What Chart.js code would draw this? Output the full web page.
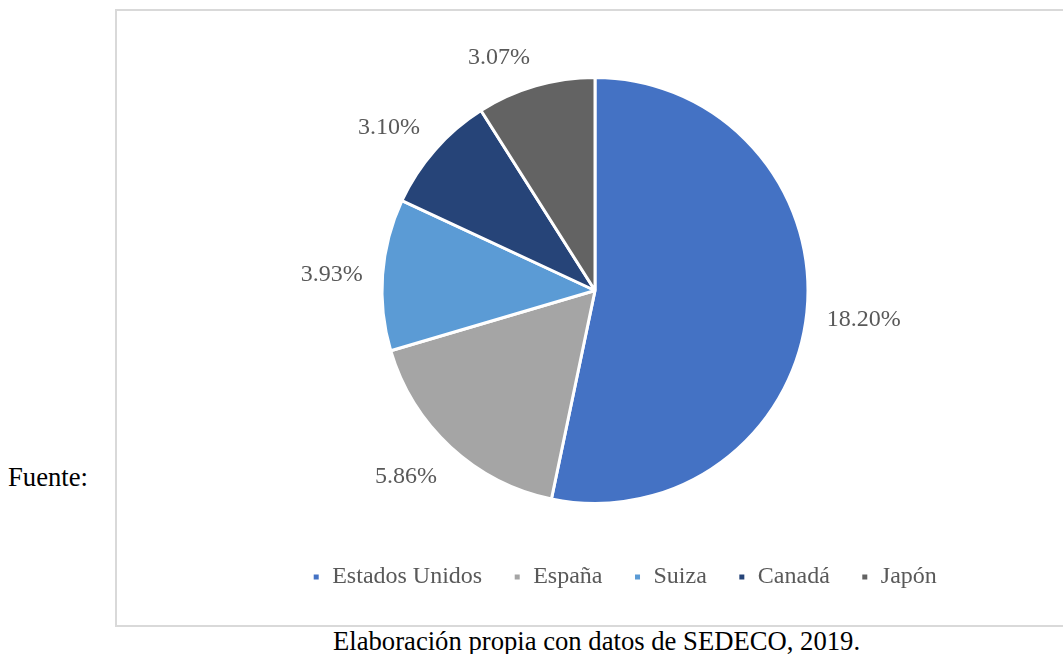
<!DOCTYPE html>
<html>
<head>
<meta charset="utf-8">
<script src="https://cdn.jsdelivr.net/npm/chart.js@4.4.1/dist/chart.umd.min.js"></script>
<style>
  body { margin: 0; background: #fff; width: 1063px; height: 654px; overflow: hidden; position: relative;
         font-family: 'Liberation Serif', 'Times New Roman', serif; }
  #frame { position: absolute; left: 115px; top: 9px; width: 1000px; height: 614px; border: 2px solid #d9d9d9; }
  #chartCanvas { position: absolute; left: 116px; top: 10px; }
  .note { position: absolute; font-size: 26.67px; line-height: 30px; color: #000; white-space: nowrap; }
</style>
</head>
<body>
<div id="frame"></div>
<canvas id="chartCanvas" width="946" height="615"></canvas>
<div class="note" style="left:8px; top:462px;">Fuente:</div>
<div class="note" style="left:333px; top:626px;">Elaboración propia con datos de SEDECO, 2019.</div>
<script>
const countries = ['Estados Unidos', 'España', 'Suiza', 'Canadá', 'Japón'];
const shares = [18.20, 5.86, 3.93, 3.10, 3.07];
const sliceColors = ['#4472C4', '#A5A5A5', '#5B9BD5', '#264478', '#636363'];

const serif = 'Liberation Serif';

// move the pie left of the legend centre, like the original
const pieShift = {
    id: 'pieShift',
    afterDatasetsUpdate(chart) {
        chart.getDatasetMeta(0).data.forEach(arc => { arc.x -= 29.5; });
    }
};

const clamp = v => Math.max(-1, Math.min(1, v));

// percentage labels outside each slice (box edge touches an anchor point, as in Excel)
const outsideLabels = {
    id: 'outsideLabels',
    afterDatasetsDraw(chart) {
        const ctx = chart.ctx;
        const meta = chart.getDatasetMeta(0);
        ctx.save();
        ctx.font = '24px "Liberation Serif"';
        ctx.fillStyle = '#595959';
        ctx.textAlign = 'center';
        ctx.textBaseline = 'middle';
        meta.data.forEach((arc, i) => {
            const text = shares[i].toFixed(2) + '%';
            const w = ctx.measureText(text).width;
            const mid = (arc.startAngle + arc.endAngle) / 2;
            const cx = Math.cos(mid), cy = Math.sin(mid);
            const d = arc.outerRadius + 20;
            const x = arc.x + cx * d + clamp(cx * 4) * w / 2;
            const y = arc.y + cy * d + clamp(cy * 2) * 12 + 3;
            ctx.fillText(text, x, y);
        });
        ctx.restore();
    }
};

function drawChart() {
    new Chart(document.getElementById('chartCanvas').getContext('2d'), {
        type: 'pie',
        data: {
            labels: countries,
            datasets: [{
                data: shares,
                backgroundColor: sliceColors,
                borderColor: '#ffffff',
                borderWidth: 3,
                radius: 213
            }]
        },
        options: {
            responsive: false,
            animation: false,
            layout: { padding: { left: 71, right: 0, top: 37, bottom: 26 } },
            plugins: {
                tooltip: { enabled: false },
                legend: {
                    position: 'bottom',
                    labels: {
                        boxWidth: 8,
                        boxHeight: 8,
                        padding: 31,
                        color: '#595959',
                        font: { family: serif, size: 24 }
                    }
                }
            }
        },
        plugins: [pieShift, outsideLabels]
    });
}

document.fonts.load('24px "Liberation Serif"').then(drawChart, drawChart);
</script>
</body>
</html>
